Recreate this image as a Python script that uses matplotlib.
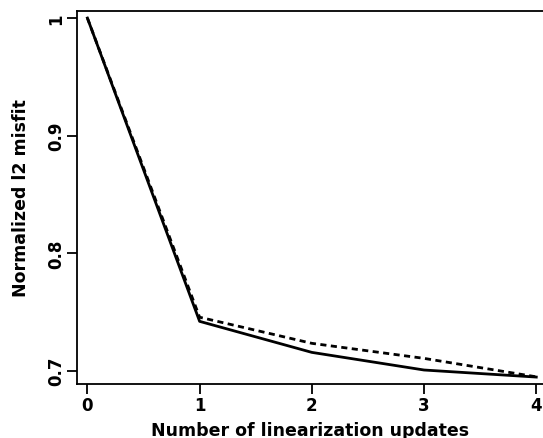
import matplotlib
matplotlib.use("Agg")
import matplotlib.pyplot as plt

# misfit history per linearization update
updates = [0, 1, 2, 3, 4]
misfit_solid = [1.0, 0.742, 0.7156, 0.7006, 0.6946]
misfit_dashed = [1.0, 0.7455, 0.7233, 0.7105, 0.6948]
xticks = [0, 1, 2, 3, 4]
yticks = [0.7, 0.8, 0.9, 1.0]
ytick_labels = ["0.7", "0.8", "0.9", "1"]

plt.rcParams["font.family"] = "DejaVu Sans"
plt.rcParams["font.weight"] = "bold"

fig = plt.figure(figsize=(5.43, 4.39), dpi=100)
W, H = 543, 439
ax = fig.add_axes([77.3 / W, 1 - 385 / H, (543 - 77.3) / W, (385 - 12) / H])

ax.plot(updates, misfit_solid, color="black", lw=2.0, solid_joinstyle="round")
ax.plot(updates, misfit_dashed, color="black", lw=2.0, ls=(0, (2.2, 1.6)))

ax.set_xlim(-0.09, 4.06)
ax.set_ylim(0.6887, 1.006)
ax.spines["right"].set_visible(False)
for s in ["left", "top", "bottom"]:
    ax.spines[s].set_linewidth(1.3)

ax.set_xticks(xticks)
ax.set_xticklabels([str(t) for t in xticks], fontsize=12, fontweight="bold")
ax.set_yticks(yticks)
ax.set_yticklabels(ytick_labels, fontsize=12, fontweight="bold",
                   rotation=90, va="center")
ax.tick_params(direction="out", length=7, width=1.3, pad=2)

ax.set_xlabel("Number of linearization updates", fontsize=12.5,
              fontweight="bold", labelpad=5)
ax.set_ylabel("Normalized l2 misfit", fontsize=12.5, fontweight="bold",
              labelpad=12)

fig.savefig("out.png", dpi=100)
